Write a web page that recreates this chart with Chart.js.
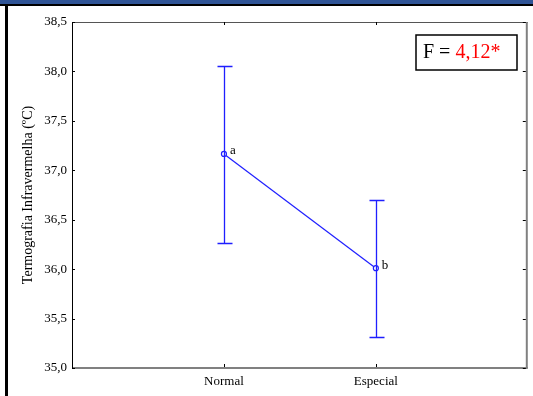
<!DOCTYPE html>
<html><head><meta charset="utf-8">
<script src="https://cdn.jsdelivr.net/npm/chart.js@4/dist/chart.umd.min.js"></script>
<style>html,body{margin:0;padding:0;background:#fff;}#wrap{width:533px;height:396px;position:relative;}</style>
</head><body><div id="wrap"><canvas id="c" width="533" height="396"></canvas></div>
<script>
const categories = ['Normal', 'Especial'];
const means = [37.165, 36.01];
const upper = [38.055, 36.70];
const lower = [36.26, 35.31];
const letters = ['a', 'b'];
const yTicks = [35.0, 35.5, 36.0, 36.5, 37.0, 37.5, 38.0, 38.5];
const yTitle = 'Termografia Infravermelha (ºC)';
const fLabel = 'F = ';
const fValue = '4,12*';

const FONT = '"Liberation Serif", "Times New Roman", serif';
const BLUE = '#1f1fff';

const points = categories.map((c, i) => ({x: i + 1, y: means[i]}));

const decor = {
  id: 'decor',
  beforeDraw(chart) {
    const ctx = chart.ctx;
    ctx.save();
    ctx.fillStyle = '#fff';
    ctx.fillRect(0, 0, chart.width, chart.height);
    ctx.fillStyle = '#2f5496';
    ctx.fillRect(0, 0, 533, 4);
    ctx.fillStyle = '#000';
    ctx.fillRect(0, 4, 533, 2);
    ctx.fillRect(5, 4, 3, 392);
    ctx.restore();
  },
  afterDatasetsDraw(chart) {
    const ctx = chart.ctx, xs = chart.scales.x, ys = chart.scales.y, a = chart.chartArea;
    ctx.save();
    // frame
    ctx.strokeStyle = '#555'; ctx.lineWidth = 1;
    ctx.beginPath(); ctx.moveTo(a.left, a.top + 0.5); ctx.lineTo(a.right, a.top + 0.5); ctx.stroke();
    ctx.strokeStyle = '#808080'; ctx.lineWidth = 2;
    ctx.beginPath(); ctx.moveTo(a.right - 1, a.top); ctx.lineTo(a.right - 1, a.bottom); ctx.stroke();
    ctx.beginPath(); ctx.moveTo(a.left, a.bottom); ctx.lineTo(a.right, a.bottom); ctx.stroke();
    ctx.strokeStyle = '#000'; ctx.lineWidth = 1;
    ctx.beginPath(); ctx.moveTo(a.left + 0.5, a.top); ctx.lineTo(a.left + 0.5, a.bottom); ctx.stroke();
    // inward ticks
    ctx.beginPath();
    yTicks.forEach(v => { const y = Math.round(ys.getPixelForValue(v)) + 0.5; ctx.moveTo(a.left, y); ctx.lineTo(a.left + 3, y); ctx.moveTo(a.right - 2, y); ctx.lineTo(a.right - 5, y); });
    categories.forEach((c, i) => { const x = Math.round(xs.getPixelForValue(i + 1)) + 0.5; ctx.moveTo(x, a.bottom - 1); ctx.lineTo(x, a.bottom - 4); ctx.moveTo(x, a.top); ctx.lineTo(x, a.top + 3); });
    ctx.stroke();
    // error bars
    ctx.strokeStyle = BLUE; ctx.lineWidth = 1.3;
    categories.forEach((c, i) => {
      const x = Math.round(xs.getPixelForValue(i + 1)) + 0.5;
      const yu = Math.round(ys.getPixelForValue(upper[i])) + 0.5;
      const yl = Math.round(ys.getPixelForValue(lower[i])) + 0.5;
      ctx.beginPath();
      ctx.moveTo(x, yu); ctx.lineTo(x, yl);
      ctx.moveTo(x - 7, yu); ctx.lineTo(x + 8, yu);
      ctx.moveTo(x - 7, yl); ctx.lineTo(x + 8, yl);
      ctx.stroke();
    });
    // letters
    ctx.fillStyle = '#000'; ctx.font = '13px ' + FONT; ctx.textBaseline = 'middle'; ctx.textAlign = 'left';
    categories.forEach((c, i) => {
      ctx.fillText(letters[i], xs.getPixelForValue(i + 1) + 6, ys.getPixelForValue(means[i]) - 3);
    });
    // y title
    ctx.save();
    ctx.translate(28, (a.top + a.bottom) / 2);
    ctx.rotate(-Math.PI / 2);
    ctx.textAlign = 'center'; ctx.textBaseline = 'middle';
    ctx.font = '14px ' + FONT; ctx.fillStyle = '#000';
    ctx.fillText(yTitle, 0, 0);
    ctx.restore();
    // F box
    ctx.strokeStyle = '#000'; ctx.lineWidth = 1.5;
    ctx.strokeRect(416, 35, 101, 35);
    ctx.font = '20px ' + FONT; ctx.textBaseline = 'middle'; ctx.textAlign = 'left';
    const w1 = ctx.measureText(fLabel).width;
    ctx.fillStyle = '#000'; ctx.fillText(fLabel, 423, 53);
    ctx.fillStyle = '#ff0000'; ctx.fillText(fValue, 423 + w1, 53);
    ctx.restore();
  }
};

new Chart(document.getElementById('c'), {
  type: 'line',
  data: { datasets: [{ data: points, borderColor: BLUE, borderWidth: 1.2, pointRadius: 2.5, pointBorderWidth: 1.2, pointBackgroundColor: '#fff', pointBorderColor: BLUE, tension: 0 }] },
  options: {
    responsive: false, animation: false, devicePixelRatio: 1,
    layout: { padding: { top: 22, right: 5, left: 0, bottom: 0 } },
    plugins: { legend: { display: false }, tooltip: { enabled: false } },
    scales: {
      x: {
        type: 'linear', min: 0, max: 3,
        afterBuildTicks: s => { s.ticks = categories.map((c, i) => ({ value: i + 1 })); },
        afterFit: s => { s.height = 28; },
        grid: { display: false, drawTicks: false }, border: { display: false },
        ticks: { padding: 6, color: '#000', font: { family: FONT, size: 13 }, callback: v => categories[v - 1] || '' }
      },
      y: {
        min: 35, max: 38.5,
        afterBuildTicks: s => { s.ticks = yTicks.map(v => ({ value: v })); },
        afterFit: s => { s.width = 72; },
        grid: { display: false, drawTicks: false }, border: { display: false },
        ticks: { padding: 5, color: '#000', font: { family: FONT, size: 13 }, callback: v => v.toFixed(1).replace('.', ',') }
      }
    }
  },
  plugins: [decor]
});
</script></body></html>
